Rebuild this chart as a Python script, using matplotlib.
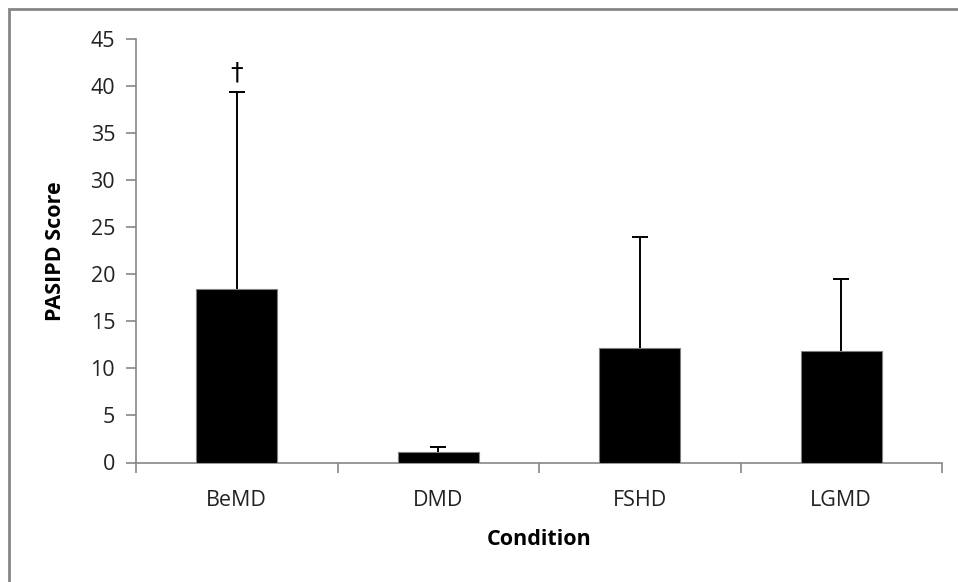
import matplotlib.pyplot as plt
import numpy as np
from matplotlib.patches import Rectangle

conditions = ['BeMD', 'DMD', 'FSHD', 'LGMD']
scores = [18.4, 1.1, 12.2, 11.8]
sd_upper = [21.0, 0.5, 11.8, 7.7]
markers = ['\u2020', '', '', '']

plt.rcParams['font.family'] = ['Open Sans', 'DejaVu Sans']

fig = plt.figure(figsize=(9.58, 5.82), dpi=100)
W, H = 958, 582

# gray frame around chart area (right/bottom fall outside the image)
fig.patches.append(Rectangle((9 / W, -0.05), 1.1, 1 - 9 / H + 0.05,
                             transform=fig.transFigure, fill=False,
                             edgecolor='#868686', linewidth=2))

ax = fig.add_axes([136 / W, 1 - 462.5 / H, (942 - 136) / W, (462.5 - 39) / H])

x = np.arange(len(conditions))
ax.bar(x, scores, width=0.4, color='black', edgecolor='#7f7f7f', linewidth=0.8,
       zorder=3)
# only the upper half of each error bar
eb = ax.errorbar(x, scores, yerr=[np.zeros(len(scores)), sd_upper], fmt='none',
                 ecolor='black', elinewidth=1.4, capsize=6, capthick=1.4,
                 zorder=2)
eb[1][0].set_visible(False)

for xi, s, e, m in zip(x, scores, sd_upper, markers):
    if m:
        ax.text(xi, s + e + 0.8, m, ha='center', va='bottom', fontsize=18,
                family=['DejaVu Sans'])

ax.set_xlim(-0.5, len(conditions) - 0.5)
ax.set_ylim(0, 45)
ax.set_yticks(np.arange(0, 46, 5))
ax.set_xticks(x)
ax.set_xticklabels(conditions)
ax.set_xticks(np.arange(-0.5, len(conditions), 1), minor=True)
ax.tick_params(axis='x', which='major', length=0, pad=20, labelsize=15.5,
               colors='#222222')
ax.tick_params(axis='x', which='minor', length=7, color='#868686', width=1.2)
ax.tick_params(axis='y', length=7, color='#868686', width=1.2, labelsize=15.5,
               pad=8, labelcolor='#222222')

for side in ['top', 'right']:
    ax.spines[side].set_visible(False)
for side in ['left', 'bottom']:
    ax.spines[side].set_color('#868686')
    ax.spines[side].set_linewidth(1.2)

ax.set_xlabel('Condition', fontsize=15.5, fontweight='bold', labelpad=13)
ax.set_ylabel('PASIPD Score', fontsize=15.5, fontweight='bold', labelpad=18)

fig.savefig('out.png', dpi=100)
